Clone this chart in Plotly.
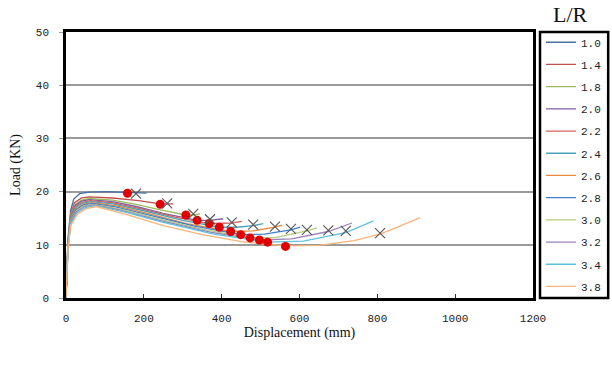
import plotly.graph_objects as go

# L/R series labels
labels = ["1.0", "1.4", "1.8", "2.0", "2.2", "2.4", "2.6", "2.8", "3.0", "3.2", "3.4", "3.8"]
colors = ["#4A6FA5", "#C0504D", "#9BBB59", "#7E5FA0", "#D9625E", "#4BA3B8",
          "#E8893D", "#3F7FD0", "#B3CC82", "#9B82B8", "#5EC0E0", "#FAB27A"]

# load-displacement curves (displacement mm, load kN)
x_10 = [0, 5, 12, 20, 35, 60, 100, 158, 207]
y_10 = [0, 11.0, 16.5, 18.6, 19.6, 19.9, 20.0, 19.8, 19.7]
x_14 = [0, 5, 12, 22, 40, 60, 120, 187, 242, 260, 275]
y_14 = [0, 10.6, 15.9, 17.9, 18.8, 19.0, 18.8, 18.3, 17.7, 17.7, 17.7]
x_18 = [0, 5, 12, 24, 40, 58, 120, 180, 240, 308, 327, 344]
y_18 = [0, 10.4, 15.6, 17.6, 18.4, 18.7, 18.4, 17.6, 16.6, 15.6, 15.6, 15.8]
x_20 = [0, 5, 12, 24, 40, 60, 120, 180, 250, 337, 370, 404]
y_20 = [0, 10.2, 15.3, 17.4, 18.2, 18.5, 18.1, 17.2, 15.9, 14.6, 14.6, 14.9]
x_22 = [0, 5, 12, 25, 42, 62, 120, 190, 280, 368, 426, 452]
y_22 = [0, 10.0, 15.1, 17.2, 18.0, 18.3, 17.9, 16.8, 15.2, 14.0, 14.1, 14.4]
x_24 = [0, 5, 12, 25, 42, 64, 120, 200, 300, 394, 440, 481, 507]
y_24 = [0, 9.9, 14.9, 17.0, 17.8, 18.1, 17.7, 16.4, 14.6, 13.3, 13.3, 13.6, 14.0]
x_26 = [0, 5, 12, 26, 44, 66, 130, 210, 310, 423, 480, 537, 555]
y_26 = [0, 9.7, 14.7, 16.8, 17.6, 17.9, 17.3, 15.9, 14.0, 12.5, 12.6, 13.3, 13.7]
x_28 = [0, 5, 12, 26, 45, 68, 130, 220, 330, 449, 510, 578, 602]
y_28 = [0, 9.6, 14.5, 16.6, 17.5, 17.8, 17.1, 15.5, 13.5, 11.9, 12.0, 12.8, 13.3]
x_30 = [0, 5, 12, 27, 46, 70, 140, 230, 350, 473, 540, 619, 645]
y_30 = [0, 9.4, 14.3, 16.4, 17.3, 17.6, 16.7, 15.0, 12.9, 11.3, 11.4, 12.6, 13.2]
x_32 = [0, 5, 12, 27, 48, 72, 140, 240, 370, 497, 580, 674, 735]
y_32 = [0, 9.3, 14.1, 16.2, 17.2, 17.5, 16.5, 14.6, 12.4, 10.9, 11.1, 12.5, 14.1]
x_34 = [0, 5, 12, 28, 50, 75, 150, 250, 380, 518, 610, 719, 790]
y_34 = [0, 9.1, 13.9, 16.0, 17.0, 17.35, 16.2, 14.2, 12.0, 10.5, 10.7, 12.3, 14.5]
x_38 = [0, 5, 12, 30, 52, 78, 150, 250, 350, 450, 564, 650, 740, 807, 858, 910]
y_38 = [0, 8.9, 13.6, 15.8, 16.8, 17.2, 15.8, 13.6, 11.9, 10.6, 9.8, 9.9, 10.8, 12.0, 13.5, 15.1]

curves_x = [x_10, x_14, x_18, x_20, x_22, x_24, x_26, x_28, x_30, x_32, x_34, x_38]
curves_y = [y_10, y_14, y_18, y_20, y_22, y_24, y_26, y_28, y_30, y_32, y_34, y_38]

# red-dot points and X points
dot_x = [158, 242, 308, 337, 368, 394, 423, 449, 473, 497, 518, 564]
dot_y = [19.7, 17.6, 15.6, 14.6, 14.0, 13.3, 12.5, 11.9, 11.3, 10.9, 10.5, 9.7]
cross_x = [180, 260, 327, 370, 426, 481, 537, 578, 619, 674, 719, 807]
cross_y = [19.6, 17.8, 15.8, 14.8, 14.2, 13.8, 13.4, 13.0, 12.8, 12.7, 12.6, 12.2]

x_ticks = [0, 200, 400, 600, 800, 1000, 1200]
y_ticks = [0, 10, 20, 30, 40, 50]

fig = go.Figure()
for i, lab in enumerate(labels):
    fig.add_trace(go.Scatter(
        x=curves_x[i], y=curves_y[i], mode="lines", name=lab,
        legendgroup=lab,
        line=dict(color=colors[i], width=1.3),
    ))

fig.add_trace(go.Scatter(
    x=dot_x, y=dot_y, mode="markers", showlegend=False,
    marker=dict(symbol="circle", size=9, color="#E00000"),
))
fig.add_trace(go.Scatter(
    x=cross_x, y=cross_y, mode="markers", showlegend=False,
    marker=dict(symbol="x-thin", size=10, line=dict(color="#555555", width=1.1)),
))

tick_font = dict(family="Liberation Mono, DejaVu Sans Mono", size=11, color="#222222")

fig.update_layout(
    width=612, height=369,
    margin=dict(l=66, r=79, t=32, b=71, autoexpand=False),
    paper_bgcolor="white", plot_bgcolor="white",
    showlegend=True,
    legend=dict(
        x=1.017, xanchor="left", y=1.016, yanchor="top",
        font=dict(family="Liberation Mono, DejaVu Sans Mono", size=11, color="#222222"),
        traceorder="grouped", tracegroupgap=3.2,
        bgcolor="rgba(0,0,0,0)", borderwidth=0,
        itemwidth=30, maxheight=340,
    ),
    xaxis=dict(
        range=[0, 1200], tickvals=x_ticks, ticktext=[str(v) for v in x_ticks],
        showgrid=False, zeroline=False,
        showline=True, linecolor="black", linewidth=2.5, mirror=True,
        ticks="inside", ticklen=4, tickcolor="#333333",
        tickfont=tick_font, ticklabelstandoff=8,
        title=dict(text="Displacement (mm)", standoff=2,
                   font=dict(family="Liberation Serif", size=14, color="#111111")),
    ),
    yaxis=dict(
        range=[0, 50], tickvals=y_ticks, ticktext=[str(v) for v in y_ticks],
        showgrid=True, gridcolor="#9A9A9A", gridwidth=1.5, zeroline=False,
        showline=True, linecolor="black", linewidth=2.5, mirror=True,
        ticks="outside", ticklen=4, tickcolor="#9A9A9A",
        tickfont=tick_font, ticklabelstandoff=8,
        title=dict(text="Load (KN)", standoff=12,
                   font=dict(family="Liberation Serif", size=14, color="#111111")),
    ),
    shapes=[dict(
        type="rect", xref="paper", yref="paper",
        x0=1.015, x1=1.161, y0=0.0, y1=1.0,
        line=dict(color="black", width=2.5), fillcolor="rgba(0,0,0,0)",
    )],
    annotations=[dict(
        text="L/R", xref="paper", yref="paper", x=1.08, y=1.01,
        xanchor="center", yanchor="bottom", showarrow=False,
        font=dict(family="Liberation Serif", size=22, color="#111111"),
    )],
)

fig.write_html("out.html")
